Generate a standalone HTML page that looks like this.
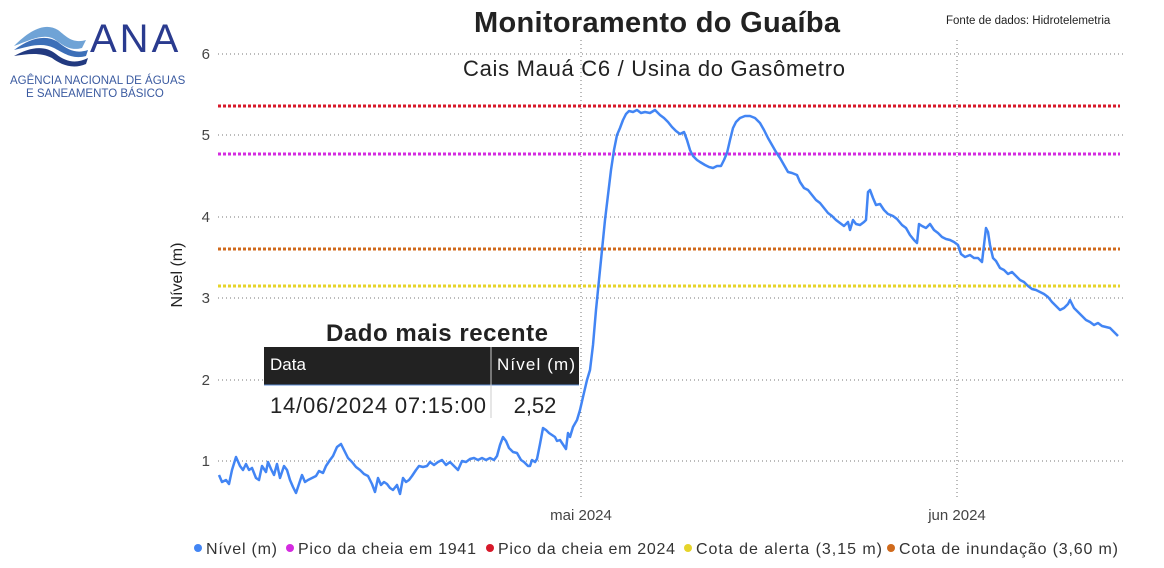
<!DOCTYPE html>
<html><head><meta charset="utf-8"><style>
body{margin:0;background:#fff;width:1164px;height:563px;overflow:hidden;font-family:"Liberation Sans","DejaVu Sans",sans-serif}
</style></head><body>
<svg width="1164" height="563" xmlns="http://www.w3.org/2000/svg" font-family="Liberation Sans, DejaVu Sans, sans-serif">
<!-- logo -->
<path d="M14,46 C30,30 45,22 58,30 C66,36 72,44 86,40 L82,48 C68,52 60,42 52,38 C42,34 30,40 14,46Z" fill="#6fa3d6"/>
<path d="M14,50 C30,38 46,34 58,42 C68,50 76,54 88,50 L86,56 C72,60 62,52 54,48 C42,42 30,46 14,50Z" fill="#3c6fb8"/>
<path d="M14,56 C28,48 44,44 56,54 C66,62 76,64 88,58 L86,64 C72,70 60,64 52,58 C40,52 28,54 14,56Z" fill="#223a80"/>
<text x="90" y="52" font-size="40" fill="#2a3b8f" letter-spacing="3">ANA</text>
<text x="10" y="84" font-size="11.5" fill="#3a5aa0">AGÊNCIA NACIONAL DE ÁGUAS</text>
<text x="26" y="97" font-size="11.5" fill="#3a5aa0">E SANEAMENTO BÁSICO</text>
<!-- titles -->
<text x="657" y="32" font-size="29" font-weight="bold" text-anchor="middle" fill="#222" textLength="366">Monitoramento do Guaíba</text>
<text x="654" y="76" font-size="22" text-anchor="middle" fill="#222" textLength="382">Cais Mauá C6 / Usina do Gasômetro</text>
<text x="946" y="24" font-size="11.5" fill="#222">Fonte de dados: Hidrotelemetria</text>
<!-- grid -->
<g stroke="#777" stroke-width="1" stroke-dasharray="1,3">
<line x1="218" y1="54" x2="1126" y2="54"/><line x1="218" y1="135" x2="1126" y2="135"/>
<line x1="218" y1="217" x2="1126" y2="217"/><line x1="218" y1="298" x2="1126" y2="298"/>
<line x1="218" y1="380" x2="1126" y2="380"/><line x1="218" y1="461" x2="1126" y2="461"/>
<line x1="581" y1="40" x2="581" y2="500"/><line x1="957" y1="40" x2="957" y2="500"/>
</g>
<g font-size="15" fill="#444" text-anchor="end">
<text x="210" y="59">6</text><text x="210" y="140">5</text><text x="210" y="222">4</text>
<text x="210" y="303">3</text><text x="210" y="385">2</text><text x="210" y="466">1</text>
</g>
<text x="581" y="520" font-size="15" fill="#444" text-anchor="middle">mai 2024</text>
<text x="957" y="520" font-size="15" fill="#444" text-anchor="middle">jun 2024</text>
<text x="182" y="275" font-size="16" fill="#222" text-anchor="middle" transform="rotate(-90 182 275)">Nível (m)</text>
<!-- reference lines -->
<g stroke-width="3" stroke-dasharray="3,2">
<line x1="218" y1="106" x2="1120" y2="106" stroke="#d7192a"/>
<line x1="218" y1="154" x2="1120" y2="154" stroke="#d42be0"/>
<line x1="218" y1="249" x2="1120" y2="249" stroke="#d06a1c"/>
<line x1="218" y1="286" x2="1120" y2="286" stroke="#e6d42a"/>
</g>
<!-- series -->
<polyline fill="none" stroke="#4285f4" stroke-width="2.5" stroke-linejoin="round" points="219,475 222,482 226,480 229,484 232,470 236,457 240,466 243,470 246,464 249,470 252,468 256,478 259,480 262,466 266,472 268,462 271,469 274,475 277,464 280,478 284,466 287,470 290,480 293,487 296,493 299,484 302,475 305,482 308,480 312,478 316,476 319,471 323,473 326,466 330,460 333,456 337,447 341,444 344,450 348,458 352,462 356,467 360,470 364,474 368,476 372,484 375,492 378,478 381,485 384,482 387,484 390,488 393,490 397,485 400,494 403,478 406,482 409,480 412,476 416,470 419,466 423,467 427,466 430,462 434,465 438,462 442,460 446,465 450,462 454,466 458,470 462,461 466,462 470,459 474,458 478,460 482,458 486,460 490,458 494,460 497,456 500,445 503,437 506,441 509,448 513,452 517,453 521,460 524,462 528,466 530,466 532,460 535,462 537,459 540,444 543,428 546,430 549,433 552,435 555,437 557,441 560,440 562,443 566,449 568,433 570,437 573,427 577,420 580,410 583,397 587,380 590,370 593,345 596,310 599,280 602,250 605,220 608,195 611,170 614,150 617,135 620,128 623,120 626,114 629,111 633,112 637,110 641,113 645,112 650,113 655,110 660,115 664,118 668,122 672,127 676,131 680,134 684,132 687,140 690,150 693,156 697,160 700,162 705,165 709,167 713,168 717,166 721,166 724,160 727,153 730,140 733,128 736,122 740,118 745,116 750,116 755,118 760,123 764,130 768,138 772,145 776,152 780,158 784,165 788,172 792,173 797,175 800,182 804,188 808,190 812,195 816,200 820,203 824,208 828,213 832,216 836,220 840,223 844,226 848,222 850,230 853,220 856,224 860,225 864,222 866,220 868,192 870,190 873,198 876,205 880,204 884,210 888,214 893,216 897,219 902,225 906,228 910,235 914,240 917,243 919,224 922,226 926,228 930,224 934,230 938,233 942,237 946,239 950,240 954,242 958,245 961,254 965,257 970,255 974,258 978,258 982,262 984,245 986,228 988,232 990,245 993,258 996,261 1000,268 1004,270 1008,274 1012,272 1016,276 1020,280 1024,282 1028,286 1032,289 1036,290 1040,292 1044,294 1048,297 1052,302 1056,306 1060,310 1064,308 1068,304 1070,300 1074,308 1078,312 1082,316 1086,320 1090,322 1094,325 1098,323 1102,326 1106,327 1110,328 1114,332 1118,336"/>
<!-- table -->
<text x="437" y="341" font-size="24" font-weight="bold" text-anchor="middle" fill="#222" textLength="222">Dado mais recente</text>
<rect x="264" y="347" width="315" height="38" fill="#222"/>
<line x1="264" y1="385" x2="579" y2="385" stroke="#5b8ad0" stroke-width="1"/>
<line x1="491" y1="347" x2="491" y2="418" stroke="#ccc" stroke-width="1"/>
<text x="270" y="370" font-size="17" fill="#fff">Data</text>
<text x="497" y="370" font-size="17" fill="#fff" textLength="78">Nível (m)</text>
<text x="270" y="413" font-size="22" fill="#222" textLength="216">14/06/2024 07:15:00</text>
<text x="535" y="413" font-size="22" fill="#222" text-anchor="middle">2,52</text>
<!-- legend -->
<g font-size="16" fill="#333">
<circle cx="198" cy="548" r="4" fill="#4285f4"/><text x="206" y="554" textLength="71">Nível (m)</text>
<circle cx="290" cy="548" r="4" fill="#d42be0"/><text x="298" y="554" textLength="178">Pico da cheia em 1941</text>
<circle cx="490" cy="548" r="4" fill="#d7192a"/><text x="498" y="554" textLength="177">Pico da cheia em 2024</text>
<circle cx="688" cy="548" r="4" fill="#e6d42a"/><text x="696" y="554" textLength="186">Cota de alerta (3,15 m)</text>
<circle cx="891" cy="548" r="4" fill="#d06a1c"/><text x="899" y="554" textLength="219">Cota de inundação (3,60 m)</text>
</g>
</svg>
</body></html>
